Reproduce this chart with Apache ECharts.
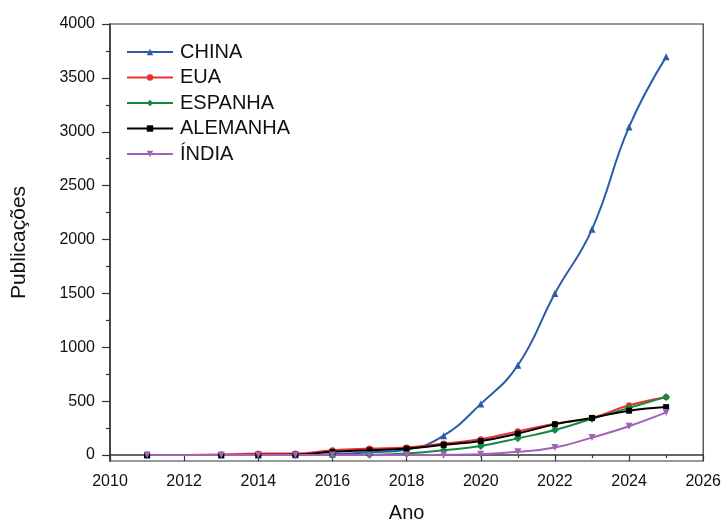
<!DOCTYPE html>
<html>
<head>
<meta charset="utf-8">
<script src="https://cdn.jsdelivr.net/npm/echarts@6/dist/echarts.min.js"></script>
<style>html,body{margin:0;padding:0;background:#fff;}#c{width:724px;height:528px;}</style>
</head>
<body>
<div id="c"></div>
<script>
var years = [2011, 2013, 2014, 2015, 2016, 2017, 2018, 2019, 2020, 2021, 2022, 2023, 2024, 2025];
var china    = [0, 0, 1, 2, 8, 25, 50, 180, 475, 833, 1500, 2095, 3045, 3695];
var eua      = [0, 5, 15, 15, 45, 60, 70, 107, 146, 220, 290, 345, 462, 537];
var espanha  = [0, 0, 0, 0, 0, 3, 15, 45, 85, 155, 232, 336, 438, 540];
var alemanha = [0, 0, 2, 5, 30, 45, 60, 95, 130, 200, 285, 345, 412, 445];
var india    = [0, 0, 0, 0, 0, 0, 0, 3, 8, 30, 70, 162, 268, 396];
var yTicks = [0, 500, 1000, 1500, 2000, 2500, 3000, 3500, 4000];
var yMinorTicks = [250, 750, 1250, 1750, 2250, 2750, 3250, 3750];

function pairs(v) { return years.map(function (y, i) { return [y, v[i]]; }); }

var font = 'Liberation Sans, Arial, sans-serif';
var axisColor = '#333';
var plain = function (v) { return String(v); };

function mk(name, data, color, symbol, size) {
  return {
    name: name, type: 'line', data: pairs(data), smooth: 0.45,
    symbol: symbol, symbolSize: size,
    itemStyle: { color: color },
    lineStyle: { color: color, width: 2 },
    emphasis: { disabled: true }
  };
}

var chart = echarts.init(document.getElementById('c'));
chart.setOption({
  animation: false,
  grid: { left: 110, right: 20, top: 24, bottom: 61, show: true, borderColor: axisColor, borderWidth: 1.2 },
  legend: {
    orient: 'vertical', left: 121, top: 37, itemGap: 5.5, itemWidth: 46, itemHeight: 8,
    textStyle: { fontFamily: font, fontSize: 20, color: '#111', padding: [0, 0, 0, 2] },
    data: ['CHINA', 'EUA', 'ESPANHA', 'ALEMANHA', 'ÍNDIA']
  },
  xAxis: {
    type: 'value', min: 2010, max: 2026, interval: 2,
    name: 'Ano', nameLocation: 'middle', nameGap: 42,
    nameTextStyle: { fontFamily: font, fontSize: 20, color: '#111' },
    axisLine: { lineStyle: { color: axisColor, width: 1.5 } },
    axisTick: { show: true, length: 6, inside: false, lineStyle: { color: axisColor, width: 1.2 } },
    minorTick: { show: true, splitNumber: 2, length: 3, lineStyle: { color: axisColor, width: 1.2 } },
    axisLabel: { fontFamily: font, fontSize: 16, color: '#111', margin: 13, formatter: plain },
    splitLine: { show: false }
  },
  yAxis: [{
    type: 'value', min: -55, max: 4000,
    name: 'Publicações', nameLocation: 'middle', nameGap: 80, nameRotate: 90,
    nameTextStyle: { fontFamily: font, fontSize: 21, color: '#111' },
    axisLine: { show: true, lineStyle: { color: axisColor, width: 1.5 } },
    axisTick: { show: true, length: 8, customValues: yTicks, lineStyle: { color: axisColor, width: 1.2 } },
    axisLabel: { fontFamily: font, fontSize: 16, color: '#111', margin: 15, customValues: yTicks, formatter: plain },
    splitLine: { show: false }
  }, {
    type: 'value', min: -55, max: 4000, position: 'left',
    axisLine: { show: false },
    axisTick: { show: true, length: 4, customValues: yMinorTicks, lineStyle: { color: axisColor, width: 1.2 } },
    axisLabel: { show: false, customValues: yMinorTicks },
    splitLine: { show: false }
  }],
  series: [
    mk('CHINA', china, '#2a5caa', 'triangle', 7),
    mk('EUA', eua, '#ee2f2f', 'circle', 6),
    mk('ESPANHA', espanha, '#15893e', 'diamond', 8),
    mk('ALEMANHA', alemanha, '#000000', 'rect', 6),
    mk('ÍNDIA', india, '#a262b8', 'path://M0,0 L10,0 L5,10 Z', 7)
  ]
});
</script>
</body>
</html>
